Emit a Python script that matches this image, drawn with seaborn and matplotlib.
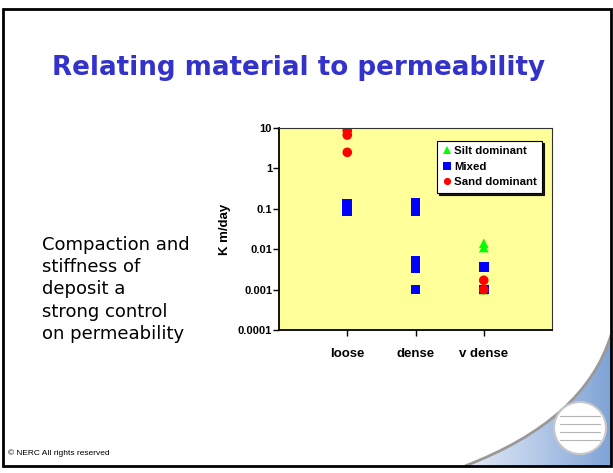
import numpy as np
import pandas as pd
import matplotlib
matplotlib.use("Agg")
import matplotlib.pyplot as plt
from matplotlib.patches import Rectangle, Circle, PathPatch
from matplotlib.path import Path
from matplotlib.colors import LinearSegmentedColormap
import seaborn as sns

# Datos
categorias = ["loose", "dense", "v dense"]

silt_cat = ["v dense", "v dense", "v dense"]
silt_k = [0.014, 0.011, 0.001]

mixed_cat = ["loose", "loose", "dense", "dense", "dense", "dense", "dense", "v dense", "v dense"]
mixed_k = [0.13, 0.086, 0.14, 0.086, 0.0052, 0.0034, 0.001, 0.0036, 0.001]

sand_cat = ["loose", "loose", "loose", "v dense", "v dense"]
sand_k = [8.6, 6.7, 2.5, 0.0017, 0.001]

tipos = ["Silt dominant", "Mixed", "Sand dominant"]
colores = {"Silt dominant": "#00FF00", "Mixed": "#0000FF", "Sand dominant": "#FF0000"}
marcadores = {"Silt dominant": "^", "Mixed": "s", "Sand dominant": "o"}

y_ticks = [0.0001, 0.001, 0.01, 0.1, 1, 10]
y_labels = ["0.0001", "0.001", "0.01", "0.1", "1", "10"]

df = pd.concat([
    pd.DataFrame({"Grado": silt_cat, "K": silt_k, "Tipo": "Silt dominant"}),
    pd.DataFrame({"Grado": mixed_cat, "K": mixed_k, "Tipo": "Mixed"}),
    pd.DataFrame({"Grado": sand_cat, "K": sand_k, "Tipo": "Sand dominant"}),
], ignore_index=True)
df["pos"] = df["Grado"].map({c: i + 1 for i, c in enumerate(categorias)})

sns.set_style("white")
plt.rcParams["font.family"] = ["Liberation Sans", "DejaVu Sans"]
plt.rcParams["text.color"] = "black"
plt.rcParams["axes.labelcolor"] = "black"
plt.rcParams["xtick.color"] = "black"
plt.rcParams["ytick.color"] = "black"

fig = plt.figure(figsize=(6.13, 4.73), dpi=100)

# Fondo de la diapositiva
bg = fig.add_axes([0, 0, 1, 1], zorder=0)
bg.set_xlim(0, 613)
bg.set_ylim(473, 0)
bg.axis("off")

# Curva decorativa abajo a la derecha
verts = [(611, 335), (585, 420), (465, 466), (611, 466), (611, 335)]
codes = [Path.MOVETO, Path.CURVE3, Path.CURVE3, Path.LINETO, Path.CLOSEPOLY]
clip = PathPatch(Path(verts, codes), facecolor="none", edgecolor="none")
bg.add_patch(clip)
cmap = LinearSegmentedColormap.from_list("swoosh", ["#e4ebf5", "#b4c9e8", "#7fa3d6"])
grad = np.linspace(0, 1, 256).reshape(1, -1)
img = bg.imshow(grad, extent=(465, 611, 466, 330), cmap=cmap, aspect="auto", zorder=1)
img.set_clip_path(clip)
curva = Path([(611, 335), (585, 420), (465, 466)], [Path.MOVETO, Path.CURVE3, Path.CURVE3])
bg.add_patch(PathPatch(curva, facecolor="none", edgecolor="#999999", lw=2, zorder=2))

# Logo
bg.add_patch(Circle((580, 428), 26, facecolor="white", edgecolor="#c8c8c8", lw=1.5, zorder=3))
for yy in [416, 424, 432, 440]:
    bg.plot([560, 600], [yy, yy], color="#b5b5b5", lw=0.8, zorder=4)

# Marco
bg.add_patch(Rectangle((3, 9), 608, 457, fill=False, edgecolor="black", lw=2, zorder=5))

# Titulo y textos
fig.text(298 / 613, 1 - 75 / 473, "Relating material to permeability", ha="center", va="baseline",
         fontsize=18.8, fontweight="bold", color="#3333CC", family="DejaVu Sans")
fig.text(42 / 613, 1 - 236 / 473, "Compaction and\nstiffness of\ndeposit a\nstrong control\non permeability",
         ha="left", va="top", fontsize=13, linespacing=1.3, family="DejaVu Sans")
fig.text(8 / 613, 1 - 453 / 473, "© NERC All rights reserved", ha="left", va="center", fontsize=6)

# Grafico
ax = fig.add_axes([279 / 613, 1 - 330 / 473, 273 / 613, 202 / 473], zorder=2)
ax.set_facecolor("#FFFF99")
sns.scatterplot(data=df, x="pos", y="K", hue="Tipo", style="Tipo", hue_order=tipos, style_order=tipos,
                palette=colores, markers=marcadores, s=48, linewidth=0, ax=ax)

ax.set_yscale("log")
ax.set_ylim(1e-4, 10)
ax.set_yticks(y_ticks)
ax.set_yticklabels(y_labels)
ax.minorticks_off()
ax.set_xlim(0, 4)
ax.set_xticks(range(1, len(categorias) + 1))
ax.set_xticklabels(categorias)
ax.set_xlabel("")
ax.set_ylabel("K m/day", fontsize=9.5, fontweight="bold", labelpad=5)

ax.tick_params(axis="y", direction="out", length=4, width=1, labelsize=8, pad=1, left=True)
ax.tick_params(axis="x", direction="out", length=4, width=1, labelsize=9.5, pad=9, bottom=True)
for lab in ax.get_xticklabels() + ax.get_yticklabels():
    lab.set_fontweight("bold")

for lado in ["left", "bottom"]:
    ax.spines[lado].set_color("black")
    ax.spines[lado].set_linewidth(1.3)
for lado in ["top", "right"]:
    ax.spines[lado].set_color("#333333")
    ax.spines[lado].set_linewidth(0.8)

handles, labels = ax.get_legend_handles_labels()
leg = ax.legend(handles, labels, loc="upper right", bbox_to_anchor=(0.963, 0.936), borderaxespad=0,
                prop={"weight": "bold", "size": 8.2}, markerscale=0.75, handlelength=0.8,
                handletextpad=0.2, labelspacing=0.5, borderpad=0.45, frameon=True, fancybox=False,
                shadow={"color": "black", "alpha": 0.9, "ox": 1.5, "oy": -1.5}, framealpha=1)
leg.get_frame().set_edgecolor("black")
leg.get_frame().set_linewidth(0.8)

fig.savefig("out.png", dpi=100)
